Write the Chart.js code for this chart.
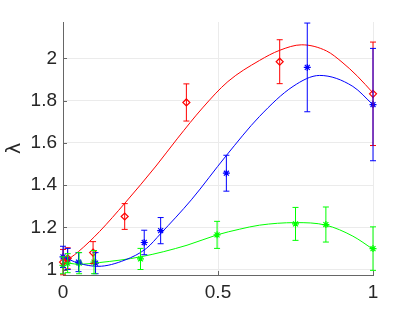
<!DOCTYPE html>
<html><head><meta charset="utf-8">
<script src="https://cdn.jsdelivr.net/npm/chart.js@4/dist/chart.umd.min.js"></script>
<style>html,body{margin:0;padding:0;background:#fff}#wrap{width:412px;height:309px}</style>
</head><body><div id="wrap"><canvas id="c" width="412" height="309"></canvas></div>
<script>
const xTicks = [0, 0.5, 1];
const yTicks = [1, 1.2, 1.4, 1.6, 1.8, 2];
const yTitle = 'λ';

const redX = [0, 0.015, 0.097, 0.199, 0.398, 0.699, 1];
const redY = [1.035, 1.053, 1.08, 1.251, 1.791, 1.984, 1.832];
const redErr = [0.06, 0.05, 0.052, 0.061, 0.088, 0.104, 0.245];

const blueX = [0, 0.015, 0.05, 0.105, 0.262, 0.315, 0.527, 0.788, 1];
const blueY = [1.06, 1.05, 1.035, 1.03, 1.128, 1.184, 1.456, 1.957, 1.781];
const blueErr = [0.05, 0.05, 0.045, 0.05, 0.058, 0.062, 0.085, 0.21, 0.266];

const greenX = [0, 0.015, 0.052, 0.1, 0.25, 0.497, 0.75, 0.848, 1];
const greenY = [1.02, 1.03, 1.03, 1.035, 1.05, 1.164, 1.216, 1.213, 1.099];
const greenErr = [0.04, 0.045, 0.05, 0.055, 0.05, 0.064, 0.078, 0.083, 0.103];

const redCurveX = [0, 0.05, 0.118, 0.2, 0.3, 0.37, 0.45, 0.532, 0.634, 0.699, 0.77, 0.85, 0.9, 0.95, 1];
const redCurveY = [1.03, 1.085, 1.18, 1.315, 1.49, 1.622, 1.765, 1.89, 1.99, 2.038, 2.064, 2.035, 1.982, 1.915, 1.836];

const blueCurveX = [0, 0.05, 0.113, 0.2, 0.269, 0.315, 0.414, 0.527, 0.634, 0.742, 0.828, 0.935, 1];
const blueCurveY = [1.06, 1.03, 1.015, 1.045, 1.10, 1.17, 1.33, 1.54, 1.725, 1.867, 1.919, 1.867, 1.78];

const greenCurveX = [0, 0.05, 0.118, 0.25, 0.4, 0.497, 0.57, 0.634, 0.75, 0.848, 0.935, 1];
const greenCurveY = [1.035, 1.025, 1.033, 1.06, 1.115, 1.164, 1.191, 1.21, 1.222, 1.21, 1.158, 1.096];

const RED = '#ff0000', BLUE = '#0000ff', GREEN = '#00ff00';

function pts(xs, ys) { return xs.map((x, i) => ({x: x, y: ys[i]})); }

function curve(xs, ys, color) {
  return {type: 'line', data: pts(xs, ys), borderColor: color, borderWidth: 1,
    pointRadius: 0, cubicInterpolationMode: 'monotone', fill: false, clip: false};
}
function markers(xs, ys, errs, color, style, r) {
  return {type: 'scatter', data: pts(xs, ys), errs: errs, borderColor: color,
    backgroundColor: style === 'rectRot' ? 'rgba(0,0,0,0)' : color,
    pointStyle: style, pointRadius: r, pointBorderWidth: 1.2, showLine: false, clip: false};
}

const errorBars = {
  id: 'errorBars',
  afterDatasetsDraw(chart) {
    const ctx = chart.ctx, xs = chart.scales.x, ys = chart.scales.y;
    ctx.save();
    chart.data.datasets.forEach(ds => {
      if (!ds.errs) return;
      ctx.strokeStyle = ds.borderColor;
      ctx.lineWidth = 1;
      ds.data.forEach((p, i) => {
        const px = xs.getPixelForValue(p.x);
        const top = ys.getPixelForValue(p.y + ds.errs[i]);
        const bot = ys.getPixelForValue(p.y - ds.errs[i]);
        ctx.beginPath();
        ctx.moveTo(px, top); ctx.lineTo(px, bot);
        ctx.moveTo(px - 3, top); ctx.lineTo(px + 3, top);
        ctx.moveTo(px - 3, bot); ctx.lineTo(px + 3, bot);
        ctx.stroke();
      });
    });
    ctx.restore();
  }
};

const innerTicks = {
  id: 'innerTicks',
  afterDraw(chart) {
    const ctx = chart.ctx, a = chart.chartArea, xs = chart.scales.x, ys = chart.scales.y;
    ctx.save();
    ctx.strokeStyle = '#666'; ctx.lineWidth = 1;
    ctx.beginPath();
    yTicks.forEach(v => { const py = Math.round(ys.getPixelForValue(v)) + 0.5; ctx.moveTo(a.left, py); ctx.lineTo(a.left + 4, py); });
    xTicks.forEach(v => { const px = Math.round(xs.getPixelForValue(v)) + 0.5; ctx.moveTo(px, a.bottom); ctx.lineTo(px, a.bottom - 4); });
    ctx.stroke();
    ctx.restore();
  }
};

const tickFont = {family: '"Liberation Sans", Arial, Helvetica, sans-serif', size: 19};

new Chart(document.getElementById('c'), {
  data: {datasets: [
    curve(redCurveX, redCurveY, RED),
    curve(blueCurveX, blueCurveY, BLUE),
    curve(greenCurveX, greenCurveY, GREEN),
    markers(redX, redY, redErr, RED, 'rectRot', 3.5),
    markers(blueX, blueY, blueErr, BLUE, 'star', 3.5),
    markers(greenX, greenY, greenErr, GREEN, 'star', 3.5)
  ]},
  options: {
    responsive: false, animation: false, devicePixelRatio: 1,
    layout: {padding: {left: 0, right: 39, top: 22, bottom: 0}},
    plugins: {legend: {display: false}, tooltip: {enabled: false}},
    scales: {
      x: {type: 'linear', min: 0, max: 1,
        afterBuildTicks: s => { s.ticks = xTicks.map(v => ({value: v})); },
        afterFit: s => { s.height = 34; },
        ticks: {font: tickFont, color: '#262626', padding: 6, maxRotation: 0,
          callback: v => String(v)},
        grid: {color: '#ebebeb', drawTicks: false},
        border: {color: '#666', width: 1}},
      y: {type: 'linear', min: 0.974, max: 2.172,
        afterBuildTicks: s => { s.ticks = yTicks.map(v => ({value: v})); },
        afterFit: s => { s.width = 63; },
        ticks: {font: tickFont, color: '#262626', padding: 6,
          callback: v => String(Math.round(v * 10) / 10)},
        grid: {color: '#ebebeb', drawTicks: false},
        border: {color: '#666', width: 1},
        title: {display: true, text: yTitle, color: '#262626', padding: {top: 4, bottom: 0},
          font: {family: '"DejaVu Sans", "Liberation Sans", sans-serif', size: 19}}}
    }
  },
  plugins: [errorBars, innerTicks]
});
</script></body></html>
